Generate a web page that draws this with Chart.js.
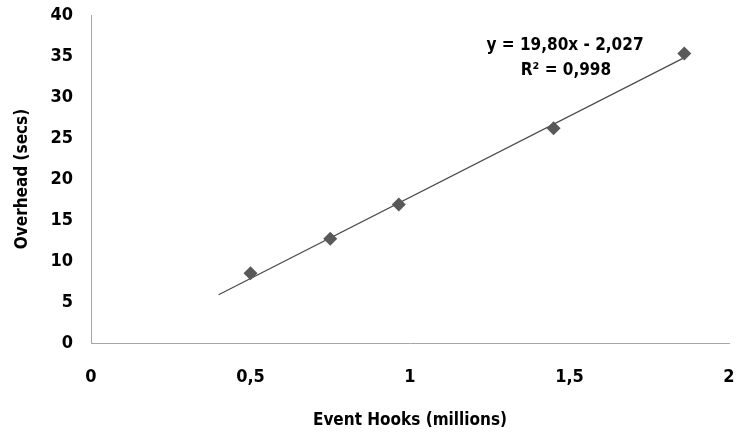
<!DOCTYPE html>
<html>
<head>
<meta charset="utf-8">
<script src="https://cdn.jsdelivr.net/npm/chart.js@4"></script>
<style>
  html, body { margin: 0; padding: 0; background: #fff; }
  #wrap { width: 736px; height: 434px; overflow: hidden; }
</style>
</head>
<body>
<div id="wrap"><canvas id="chart" width="736" height="434"></canvas></div>
<script>
// Mesures : crochets d'événements (millions) vs surcoût (secondes)
const hooks = [0.5, 0.75, 0.965, 1.45, 1.86];
const overhead = [8.5, 12.7, 16.9, 26.2, 35.3];

// Courbe de tendance linéaire : y = 19,80x - 2,027
const slope = 19.80;
const intercept = -2.027;
const rSquared = 0.998;
const trendRange = [0.4, 1.86];

const xTicks = [0, 0.5, 1, 1.5, 2];
const yTicks = [0, 5, 10, 15, 20, 25, 30, 35, 40];

const fmt = v => String(v).replace(".", ",");

const trendPoints = trendRange.map(x => ({ x: x, y: slope * x + intercept }));
const points = hooks.map((x, i) => ({ x: x, y: overhead[i] }));

const FONT = "'DejaVu Sans Condensed', 'DejaVu Sans', sans-serif";
const tickFont = { family: FONT, weight: "bold", size: 18 };
const titleFont = { family: FONT, weight: "bold", size: 17 };

// Affiche l'équation et le R² au-dessus du dernier point
const equationLabel = {
  id: "equationLabel",
  afterDraw(chart) {
    const ctx = chart.ctx;
    ctx.save();
    ctx.font = "bold 17px " + FONT;
    ctx.fillStyle = "#000";
    ctx.textAlign = "center";
    ctx.textBaseline = "middle";
    const eq = "y = " + slope.toFixed(2).replace(".", ",") + "x - " + Math.abs(intercept).toFixed(3).replace(".", ",");
    ctx.fillText(eq, 565, 46);
    ctx.fillText("R² = " + rSquared.toFixed(3).replace(".", ","), 566, 71);
    ctx.restore();
  }
};

new Chart(document.getElementById("chart"), {
  type: "scatter",
  data: {
    datasets: [
      {
        label: "Tendance",
        data: trendPoints,
        showLine: true,
        borderColor: "#4a4a4a",
        borderWidth: 1.2,
        pointRadius: 0,
        order: 2
      },
      {
        label: "Surcoût",
        data: points,
        pointStyle: "rectRot",
        pointRadius: 7,
        backgroundColor: "#595959",
        borderColor: "#595959",
        borderWidth: 0,
        order: 1
      }
    ]
  },
  plugins: [equationLabel],
  options: {
    responsive: false,
    animation: false,
    layout: { padding: { top: 15, right: 5, left: 0, bottom: 0 } },
    plugins: {
      legend: { display: false },
      tooltip: { enabled: false }
    },
    scales: {
      x: {
        type: "linear",
        min: 0,
        max: 2,
        afterBuildTicks: s => { s.ticks = xTicks.map(v => ({ value: v })); },
        afterFit: s => { s.height = 91; s.paddingRight = 0; s.paddingLeft = 0; },
        grid: { display: false, drawTicks: false },
        border: { display: true, color: "#a6a6a6", width: 1 },
        ticks: { color: "#000", font: tickFont, padding: 24, callback: v => fmt(v) },
        title: {
          display: true,
          text: "Event Hooks (millions)",
          color: "#000",
          font: titleFont,
          padding: { top: 16, bottom: 3 }
        }
      },
      y: {
        type: "linear",
        min: 0,
        max: 40,
        afterBuildTicks: s => { s.ticks = yTicks.map(v => ({ value: v })); },
        afterFit: s => { s.width = 91; s.paddingTop = 0; s.paddingBottom = 0; },
        grid: { display: false, drawTicks: false },
        border: { display: true, color: "#a6a6a6", width: 1 },
        ticks: { color: "#000", font: tickFont, padding: 18, callback: v => fmt(v) },
        title: {
          display: true,
          text: "Overhead (secs)",
          color: "#000",
          font: titleFont,
          padding: { top: 12, bottom: 0 }
        }
      }
    }
  }
});
</script>
</body>
</html>
